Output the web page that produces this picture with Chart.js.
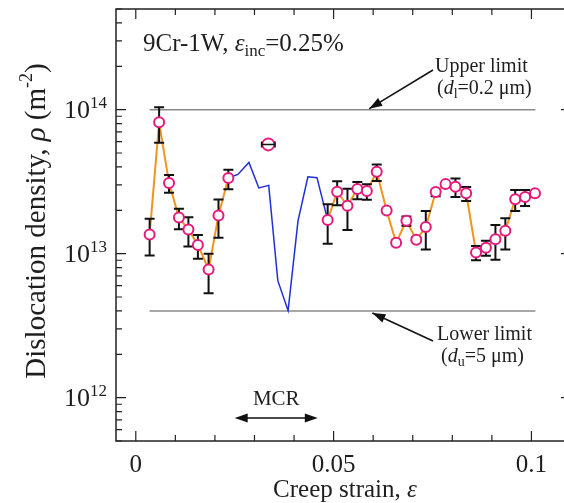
<!DOCTYPE html>
<html>
<head>
<meta charset="utf-8">
<script src="https://cdn.jsdelivr.net/npm/chart.js@4.4.0/dist/chart.umd.min.js"></script>
<style>
  html, body { margin: 0; padding: 0; background: #fff; overflow: hidden; width: 564px; height: 503px; }
  canvas { display: block; }
</style>
</head>
<body>
<canvas id="myChart" width="580" height="503"></canvas>
<script>
// measured points, strain increment 0.25%
const strain = [0.0035, 0.0059, 0.0084, 0.0109, 0.0133, 0.0157, 0.0184, 0.0209, 0.0234,
  0.0485, 0.0509, 0.0535, 0.0560, 0.0584, 0.0609, 0.0634, 0.0658, 0.0684, 0.0709, 0.0733,
  0.0758, 0.0783, 0.0808, 0.0835, 0.0860, 0.0885, 0.0909, 0.0934, 0.0959, 0.0984, 0.1009];
const density = [1.36e13, 8.17e13, 3.10e13, 1.78e13, 1.47e13, 1.15e13, 7.76e12, 1.84e13, 3.35e13,
  1.71e13, 2.69e13, 2.15e13, 2.81e13, 2.72e13, 3.70e13, 1.99e13, 1.19e13, 1.69e13, 1.25e13, 1.53e13,
  2.68e13, 3.04e13, 2.91e13, 2.63e13, 1.02e13, 1.10e13, 1.26e13, 1.44e13, 2.39e13, 2.47e13, 2.63e13];
const errHi = [1.75e13, 1.04e14, 3.52e13, 2.05e13, 1.79e13, 1.35e13, 1.00e13, 2.38e13, 3.82e13,
  2.20e13, 3.18e13, 2.82e13, 3.14e13, 3.03e13, 4.16e13, null, 1.24e13, 1.81e13, 1.30e13, 1.98e13,
  2.75e13, 3.10e13, 3.33e13, 2.90e13, 1.13e13, 1.23e13, 1.58e13, 1.76e13, 2.77e13, 2.77e13, null];
const errLo = [9.7e12, 5.88e13, 2.65e13, 1.48e13, 1.12e13, 9.2e12, 5.3e12, 1.29e13, 2.80e13,
  1.17e13, 2.17e13, 1.46e13, 2.39e13, 2.37e13, 3.19e13, null, 1.15e13, 1.56e13, 1.21e13, 1.07e13,
  2.50e13, 2.95e13, 2.47e13, 2.32e13, 9.0e12, 9.66e12, 9.06e12, 1.07e13, 1.98e13, 2.14e13, null];

// interpolated curve across the MCR
const mcrStrain = [0.0234, 0.0258, 0.0286, 0.0311, 0.0336, 0.0359, 0.0385, 0.0410, 0.0435, 0.0458, 0.0485];
const mcrDensity = [3.35e13, 3.55e13, 4.30e13, 2.86e13, 2.98e13, 6.49e12, 4.02e12, 1.69e13, 3.42e13, 3.37e13, 1.71e13];

// single point from the other estimate
const extraStrain = [0.0335];
const extraDensity = [5.73e13];
const extraErrX = [0.0017];

// subgrain size limits
const limitStrain = [0.0035, 0.101];
const upperLimit = 1e14;
const lowerLimit = 4e12;
const mcrRange = [0.025, 0.046];

const xTickLabels = [0, 0.05, 0.1];
const yTickExp = [12, 13, 14];

const SERIF = '"Liberation Serif", "Times New Roman", serif';
const INK = '#1e1e1e';
const PINK = '#e8197c';

const pts = (xs, ys) => xs.map((x, i) => ({ x: x, y: ys[i] }));

function rich(ctx, parts, x, y, align) {
  let w = 0;
  parts.forEach(p => {
    ctx.font = (p.it ? 'italic ' : '') + p.size + 'px ' + SERIF;
    p.w = ctx.measureText(p.t).width;
    w += p.w;
  });
  let cx = align === 'center' ? x - w / 2 : (align === 'right' ? x - w : x);
  parts.forEach(p => {
    ctx.font = (p.it ? 'italic ' : '') + p.size + 'px ' + SERIF;
    ctx.fillText(p.t, cx, y + (p.dy || 0));
    cx += p.w;
  });
}

function arrowHead(ctx, fx, fy, tx, ty) {
  const a = Math.atan2(ty - fy, tx - fx);
  const len = 13, half = 4.5;
  ctx.beginPath();
  ctx.moveTo(tx, ty);
  ctx.lineTo(tx - len * Math.cos(a) + half * Math.sin(a), ty - len * Math.sin(a) - half * Math.cos(a));
  ctx.lineTo(tx - len * Math.cos(a) - half * Math.sin(a), ty - len * Math.sin(a) + half * Math.cos(a));
  ctx.closePath();
  ctx.fill();
}

function arrow(ctx, fx, fy, tx, ty) {
  ctx.beginPath();
  ctx.moveTo(fx, fy);
  ctx.lineTo(tx, ty);
  ctx.stroke();
  arrowHead(ctx, fx, fy, tx, ty);
}

const errorBars = {
  id: 'errorBars',
  beforeDatasetDraw(chart, args) {
    if (args.index !== 0) return;
    const ctx = chart.ctx, xs = chart.scales.x, ys = chart.scales.y;
    ctx.save();
    ctx.strokeStyle = '#111';
    ctx.lineWidth = 2;
    strain.forEach((s, i) => {
      if (errHi[i] == null) return;
      const px = xs.getPixelForValue(s);
      const top = ys.getPixelForValue(errHi[i]);
      const bot = ys.getPixelForValue(errLo[i]);
      ctx.beginPath();
      ctx.moveTo(px, top); ctx.lineTo(px, bot);
      ctx.moveTo(px - 5, top); ctx.lineTo(px + 5, top);
      ctx.moveTo(px - 5, bot); ctx.lineTo(px + 5, bot);
      ctx.stroke();
    });
    ctx.restore();
  },
  afterDatasetsDraw(chart) {
    const ctx = chart.ctx, xs = chart.scales.x, ys = chart.scales.y;
    ctx.save();
    ctx.strokeStyle = '#111';
    ctx.lineWidth = 1.5;
    extraStrain.forEach((s, i) => {
      const l = xs.getPixelForValue(s - extraErrX[i]);
      const r = xs.getPixelForValue(s + extraErrX[i]);
      const py = ys.getPixelForValue(extraDensity[i]);
      ctx.beginPath();
      ctx.moveTo(l, py); ctx.lineTo(r, py);
      ctx.moveTo(l, py - 3); ctx.lineTo(l, py + 3);
      ctx.moveTo(r, py - 3); ctx.lineTo(r, py + 3);
      ctx.stroke();
    });
    ctx.restore();
  }
};

const frameAndText = {
  id: 'frameAndText',
  afterDraw(chart) {
    const ctx = chart.ctx, xs = chart.scales.x, ys = chart.scales.y;
    const a = chart.chartArea;
    ctx.save();
    ctx.strokeStyle = '#222';
    ctx.lineWidth = 1.5;
    ctx.strokeRect(a.left, a.top, a.right - a.left, a.bottom - a.top);

    // inward ticks on all four sides
    ctx.lineWidth = 1.2;
    ctx.beginPath();
    for (let k = 0; k <= 11; k++) {
      const v = k / 100;
      const px = xs.getPixelForValue(v);
      const len = (k % 5 === 0) ? 10 : 6;
      ctx.moveTo(px, a.bottom); ctx.lineTo(px, a.bottom - len);
      ctx.moveTo(px, a.top); ctx.lineTo(px, a.top + len);
    }
    for (let e = 11; e <= 14; e++) {
      for (let m = 1; m <= 9; m++) {
        const v = m * Math.pow(10, e);
        if (v < ys.min || v > ys.max) continue;
        const py = ys.getPixelForValue(v);
        const len = m === 1 ? 10 : 6;
        ctx.moveTo(a.left, py); ctx.lineTo(a.left + len, py);
        ctx.moveTo(a.right, py); ctx.lineTo(a.right - len, py);
      }
    }
    ctx.stroke();

    ctx.fillStyle = INK;
    ctx.textBaseline = 'alphabetic';

    // x tick labels
    ctx.textAlign = 'left';
    xTickLabels.forEach(v => {
      rich(ctx, [{ t: String(v), size: 25 }], xs.getPixelForValue(v), 472, 'center');
    });

    // y tick labels 10^n
    yTickExp.forEach(e => {
      const py = ys.getPixelForValue(Math.pow(10, e));
      rich(ctx, [{ t: '10', size: 26 }, { t: String(e), size: 17, dy: -10 }], 107, py + 8, 'right');
    });

    // axis titles
    rich(ctx, [{ t: 'Creep strain, ', size: 25 }, { t: 'ε', size: 25, it: true }], 345, 497, 'center');
    ctx.save();
    ctx.translate(45, 221);
    ctx.rotate(-Math.PI / 2);
    rich(ctx, [{ t: 'Dislocation density, ', size: 29 }, { t: 'ρ', size: 29, it: true },
      { t: ' (m', size: 29 }, { t: '-2', size: 18, dy: -13 }, { t: ')', size: 29 }], 0, 0, 'center');
    ctx.restore();

    // material label
    rich(ctx, [{ t: '9Cr-1W, ', size: 25 }, { t: 'ε', size: 25, it: true },
      { t: 'inc', size: 17, dy: 5 }, { t: '=0.25%', size: 25 }], 143, 51, 'left');

    // limit annotations
    rich(ctx, [{ t: 'Upper limit', size: 20 }], 435, 72, 'left');
    rich(ctx, [{ t: '(', size: 20 }, { t: 'd', size: 20, it: true }, { t: 'l', size: 14, dy: 4 },
      { t: '=0.2 μm)', size: 20 }], 437, 94, 'left');
    rich(ctx, [{ t: 'Lower limit', size: 20 }], 437, 340, 'left');
    rich(ctx, [{ t: '(', size: 20 }, { t: 'd', size: 20, it: true }, { t: 'u', size: 14, dy: 4 },
      { t: '=5 μm)', size: 20 }], 441, 362, 'left');

    ctx.strokeStyle = '#111';
    ctx.fillStyle = '#111';
    ctx.lineWidth = 1.5;
    arrow(ctx, 433, 70, xs.getPixelForValue(0.059), ys.getPixelForValue(upperLimit) - 1);
    arrow(ctx, 433, 341, xs.getPixelForValue(0.0598), ys.getPixelForValue(lowerLimit) + 2);

    // MCR double arrow
    const ml = xs.getPixelForValue(mcrRange[0]);
    const mr = xs.getPixelForValue(mcrRange[1]);
    const my = 418;
    ctx.beginPath();
    ctx.moveTo(ml + 5, my); ctx.lineTo(mr - 5, my);
    ctx.stroke();
    arrowHead(ctx, mr, my, ml, my);
    arrowHead(ctx, ml, my, mr, my);
    ctx.fillStyle = INK;
    rich(ctx, [{ t: 'MCR', size: 21 }], (ml + mr) / 2, 405, 'center');
    ctx.restore();
  }
};

new Chart(document.getElementById('myChart'), {
  type: 'scatter',
  data: {
    datasets: [
      {
        label: 'measured',
        data: pts(strain, density),
        showLine: false,
        pointRadius: 5,
        pointBorderWidth: 2,
        pointBorderColor: PINK,
        pointBackgroundColor: '#fff',
        order: 0
      },
      {
        label: 'extra',
        data: pts(extraStrain, extraDensity),
        showLine: false,
        pointRadius: 6,
        pointBorderWidth: 1.8,
        pointBorderColor: PINK,
        pointBackgroundColor: '#fff',
        order: 0
      },
      {
        label: 'primary',
        data: pts(strain.slice(0, 9), density.slice(0, 9)),
        showLine: true,
        borderColor: '#f39320',
        borderWidth: 2,
        pointRadius: 0,
        order: 1
      },
      {
        label: 'later',
        data: pts(strain.slice(9), density.slice(9)),
        showLine: true,
        borderColor: '#f39320',
        borderWidth: 2,
        pointRadius: 0,
        order: 1
      },
      {
        label: 'mcr',
        data: pts(mcrStrain, mcrDensity),
        showLine: true,
        borderColor: '#1f2fd6',
        borderWidth: 1.5,
        pointRadius: 0,
        order: 2
      },
      {
        label: 'upper',
        data: pts(limitStrain, [upperLimit, upperLimit]),
        showLine: true,
        borderColor: '#8a8a8a',
        borderWidth: 1.5,
        pointRadius: 0,
        order: 3
      },
      {
        label: 'lower',
        data: pts(limitStrain, [lowerLimit, lowerLimit]),
        showLine: true,
        borderColor: '#8a8a8a',
        borderWidth: 1.5,
        pointRadius: 0,
        order: 3
      }
    ]
  },
  options: {
    responsive: false,
    animation: false,
    layout: { padding: { left: 116, right: 9, top: 9, bottom: 62 } },
    scales: {
      x: { type: 'linear', min: -0.005, max: 0.11, display: false },
      y: { type: 'logarithmic', min: 5e11, max: 5e14, display: false }
    },
    plugins: { legend: { display: false }, tooltip: { enabled: false } }
  },
  plugins: [errorBars, frameAndText]
});
</script>
</body>
</html>
